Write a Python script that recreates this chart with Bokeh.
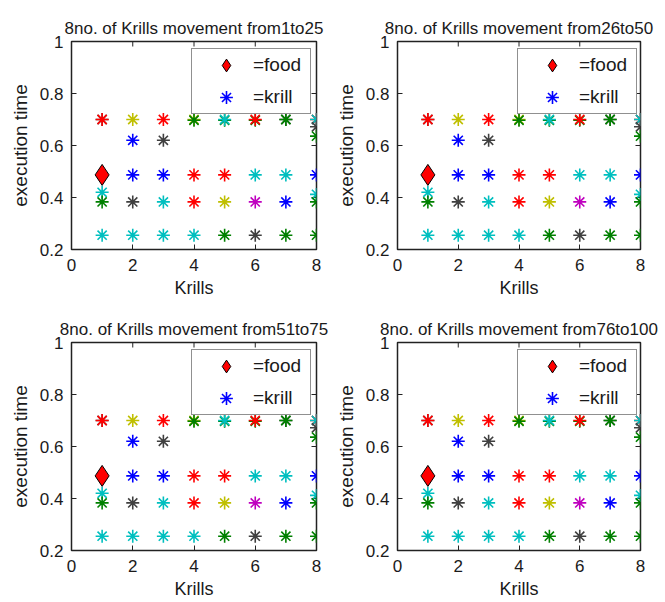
import math
from bokeh.plotting import figure
from bokeh.layouts import column, row
from bokeh.models import (LinearAxis, Legend, LegendItem, ColumnDataSource,
                          FixedTicker, Range1d)
from bokeh.embed import file_html
from bokeh.resources import INLINE

# ---------------- data ----------------
titles = [
    "8no. of Krills movement from1to25",
    "8no. of Krills movement from26to50",
    "8no. of Krills movement from51to75",
    "8no. of Krills movement from76to100",
]
x_label = "Krills"
y_label = "execution time"
legend_labels = ["=food", "=krill"]

krill_x = [1, 1, 1, 1, 1,
           2, 2, 2, 2, 2,
           3, 3, 3, 3, 3,
           4, 4, 4, 4, 4,
           5, 5, 5, 5, 5,
           6, 6, 6, 6, 6,
           7, 7, 7, 7, 7,
           8, 8, 8, 8, 8, 8, 8, 8]
krill_y = [0.700, 0.700, 0.420, 0.383, 0.255,
           0.700, 0.620, 0.487, 0.383, 0.255,
           0.700, 0.620, 0.487, 0.383, 0.255,
           0.700, 0.697, 0.487, 0.383, 0.255,
           0.697, 0.700, 0.487, 0.383, 0.255,
           0.697, 0.700, 0.487, 0.383, 0.255,
           0.700, 0.700, 0.487, 0.383, 0.255,
           0.700, 0.700, 0.672, 0.636, 0.487, 0.412, 0.383, 0.255]
krill_c = ["k", "r", "c", "g", "c",
           "y", "b", "b", "k", "c",
           "r", "k", "b", "c", "c",
           "y", "g", "r", "r", "c",
           "g", "c", "r", "y", "g",
           "g", "r", "c", "m", "k",
           "k", "g", "c", "b", "g",
           "r", "c", "k", "g", "b", "c", "g", "g"]
food_x = [1]
food_y = [0.487]

x_min, x_max = 0, 8
y_min, y_max = 0.2, 1
x_ticks = [0, 2, 4, 6, 8]
y_ticks = [0.2, 0.4, 0.6, 0.8, 1]

# ---------------- style ----------------
COLORS = {"b": "#0000ff", "g": "#008000", "r": "#ff0000", "c": "#00bfbf",
          "m": "#bf00bf", "y": "#bfbf00", "k": "#404040"}
FONT = "Liberation Sans"
INK = "#1a1a1a"


def style_axis(ax):
    ax.major_tick_in = 5
    ax.major_tick_out = 0
    ax.minor_tick_in = 0
    ax.minor_tick_out = 0
    ax.axis_line_color = "#222222"
    ax.major_tick_line_color = "#222222"
    ax.major_label_text_font = FONT
    ax.axis_label_text_font = FONT
    ax.axis_label_text_font_style = "normal"
    ax.major_label_text_color = INK
    ax.axis_label_text_color = INK
    ax.major_label_text_font_size = "17px"


def make_panel(title, width, height, bl, br, bt, bb):
    p = figure(width=width, height=height, title=title,
               x_range=Range1d(x_min, x_max), y_range=Range1d(y_min, y_max),
               output_backend="svg", toolbar_location=None,
               min_border_left=bl, min_border_right=br,
               min_border_top=bt, min_border_bottom=bb,
               x_axis_type=None, y_axis_type=None)
    p.background_fill_color = "white"
    p.border_fill_color = "white"
    p.outline_line_color = "#222222"
    p.outline_line_width = 1.5
    p.xgrid.visible = False
    p.ygrid.visible = False
    p.title.text_font = FONT
    p.title.text_font_size = "17px"
    p.title.text_font_style = "normal"
    p.title.text_color = INK
    p.title.align = "center"
    p.title.standoff = 8

    xb = LinearAxis(ticker=FixedTicker(ticks=x_ticks), axis_label=x_label)
    style_axis(xb)
    xb.major_label_standoff = 9
    xb.axis_label_text_font_size = "18px"
    xb.axis_label_standoff = 4
    p.add_layout(xb, "below")

    yl = LinearAxis(ticker=FixedTicker(ticks=y_ticks), axis_label=y_label)
    style_axis(yl)
    yl.major_label_standoff = 8
    yl.major_label_overrides = {1: "1"}
    yl.axis_label_text_font_size = "19px"
    yl.axis_label_standoff = 6
    p.add_layout(yl, "left")

    # mirrored inward ticks on the top and right edges of the box
    p.ray(x=x_ticks, y=[y_max] * len(x_ticks), length=5, length_units="screen",
          angle=-math.pi / 2, line_color="#222222", line_width=1)
    p.ray(x=[x_max] * len(y_ticks), y=y_ticks, length=5, length_units="screen",
          angle=math.pi, line_color="#222222", line_width=1)

    src = ColumnDataSource(dict(x=krill_x, y=krill_y,
                                color=[COLORS[c] for c in krill_c]))
    kr = p.scatter("x", "y", source=src, marker="asterisk", size=13,
                   line_color="color", line_width=1.6)
    fd = p.scatter(food_x, food_y, marker="diamond", size=21,
                   fill_color="#ff0000", line_color="black", line_width=1)

    blue_idx = krill_c.index("b")
    legend = Legend(items=[LegendItem(label=legend_labels[0], renderers=[fd]),
                           LegendItem(label=legend_labels[1], renderers=[kr],
                                      index=blue_idx)],
                    location=(120, 135))
    legend.label_text_font = FONT
    legend.label_text_font_size = "19px"
    legend.label_text_color = INK
    legend.padding = dict(left=8, right=0, top=0, bottom=0)
    legend.spacing = 0
    legend.glyph_width = 52
    legend.glyph_height = 32
    legend.label_height = 32
    legend.label_width = 57
    legend.label_standoff = 1
    legend.border_line_color = "#222222"
    legend.border_line_width = 1.2
    legend.background_fill_alpha = 1.0
    legend.margin = 0
    p.add_layout(legend)
    return p


p1 = make_panel(titles[0], 332, 301, 71, 16, 41, 52)
p2 = make_panel(titles[1], 333, 301, 60, 25, 41, 52)
p3 = make_panel(titles[2], 332, 301, 71, 16, 41, 52)
p4 = make_panel(titles[3], 333, 301, 60, 25, 41, 52)

layout = column(row(p1, p2), row(p3, p4))

with open("out.html", "w") as f:
    f.write(file_html(layout, INLINE))
